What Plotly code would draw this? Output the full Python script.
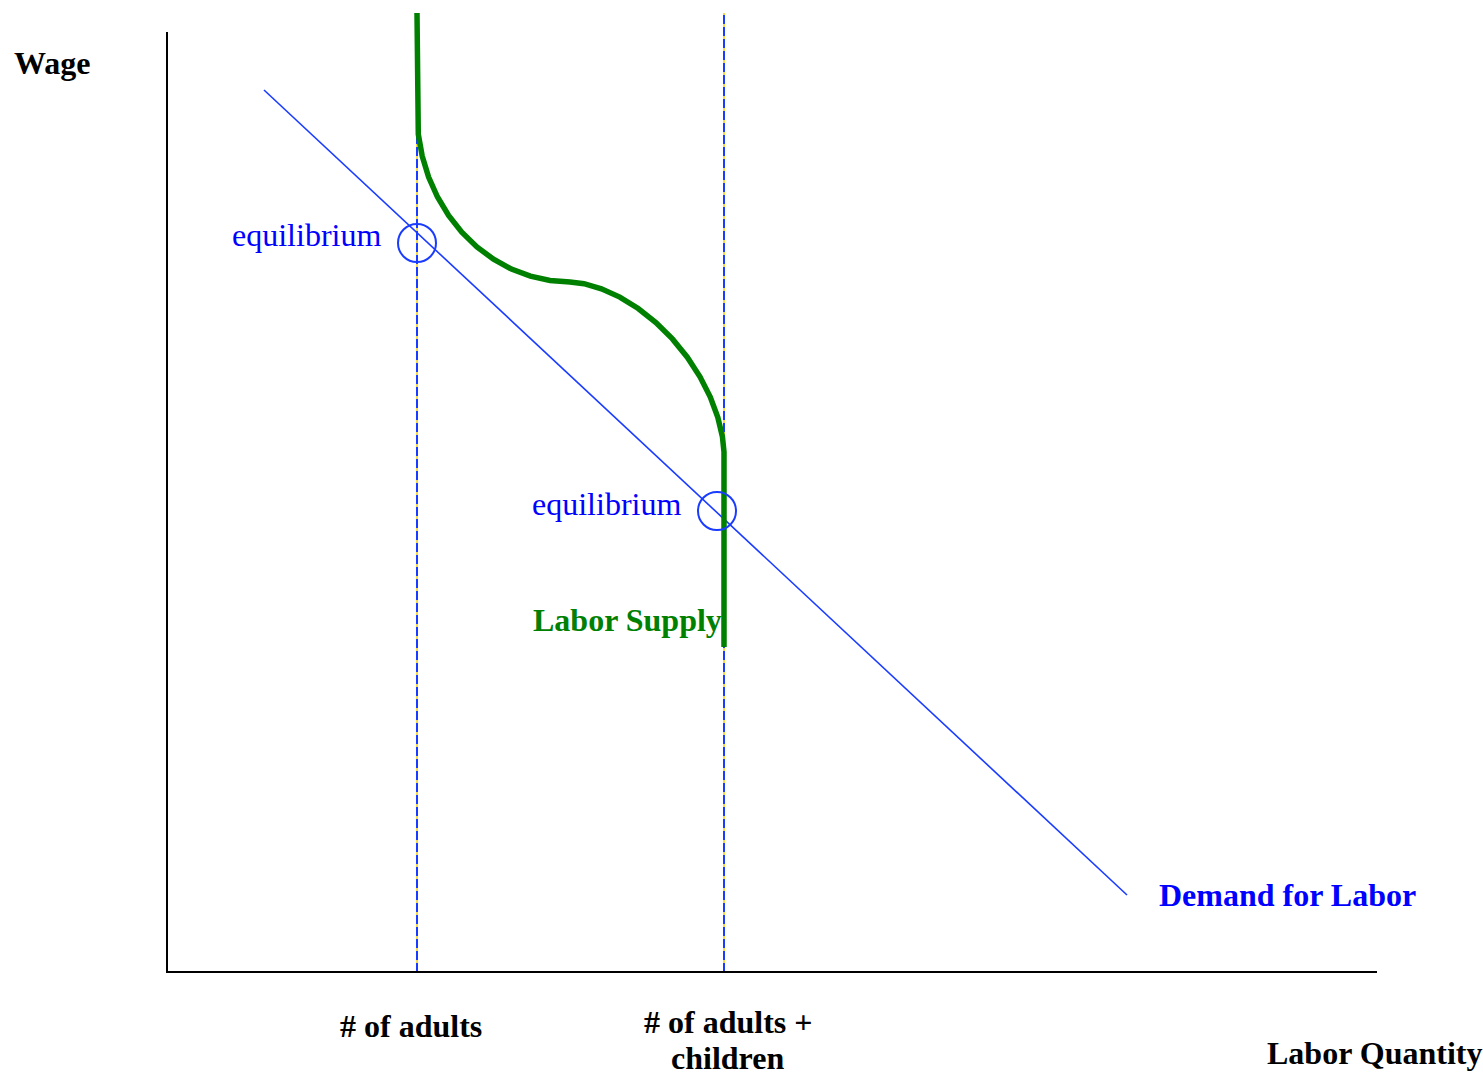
import plotly.graph_objects as go

# ---- data (economic units: quantity to the right, wage upward) ----
axis_x = [0, 0, 1210]
axis_y = [940, 0, 0]

adults_q = 250
adults_children_q = 557
dash_top_w = 959

demand_q = [97, 960]
demand_w = [882, 77]

supply_q = [250, 250, 251.3, 255.2, 261.6, 270.5, 281.6, 294.8, 309.9, 326.5, 344.4, 363.4, 383.0, 403,
            417.0, 434.4, 452.8, 471.2, 488.9, 505.4, 520.3, 533.0, 543.3, 550.8, 555.4, 557, 557]
supply_w = [959, 860, 837.8, 816.0, 794.9, 775.0, 756.5, 739.8, 725.1, 712.8, 702.9, 695.8, 691.5, 690,
            688.3, 683.2, 674.9, 663.5, 649.5, 633.1, 614.8, 595.2, 574.9, 554.7, 535.5, 520, 325]

equil_q = [250, 550]
equil_w = [729, 461]

tick_labels = ["# of adults", "# of adults +", "children"]

FONT = "Liberation Serif"
BLUE_LINE = "#1a3cff"
BLUE_TEXT = "#0000ff"
GREEN = "#008000"

fig = go.Figure()

# dashed reference lines (blue dashes on yellow)
for q in [adults_q, adults_children_q]:
    fig.add_trace(go.Scatter(x=[q, q], y=[0, dash_top_w], mode="lines",
                             line=dict(color="#f2d84a", width=2), hoverinfo="skip", showlegend=False))
    fig.add_trace(go.Scatter(x=[q, q], y=[0, dash_top_w], mode="lines",
                             line=dict(color=BLUE_LINE, width=2, dash="9px,3px"), hoverinfo="skip", showlegend=False))

# axes
fig.add_trace(go.Scatter(x=axis_x, y=axis_y, mode="lines",
                         line=dict(color="black", width=2), hoverinfo="skip", showlegend=False))

# demand
fig.add_trace(go.Scatter(x=demand_q, y=demand_w, mode="lines",
                         line=dict(color=BLUE_LINE, width=1.6), showlegend=False))

# supply
fig.add_trace(go.Scatter(x=supply_q, y=supply_w, mode="lines",
                         line=dict(color=GREEN, width=5.5), showlegend=False))

# equilibrium circles
fig.add_trace(go.Scatter(x=equil_q, y=equil_w, mode="markers",
                         marker=dict(symbol="circle-open", size=38, color=BLUE_LINE, line=dict(width=2)),
                         showlegend=False))

ann = []
def txt(text, x, y, color="black", bold=True, xanchor="left", size=32):
    t = f"<b>{text}</b>" if bold else text
    ann.append(dict(text=t, x=x, y=y, xref="x", yref="y", showarrow=False, xanchor=xanchor,
                    yanchor="middle", font=dict(family=FONT, size=size, color=color)))

txt("Wage", -155, 909)
txt("equilibrium", 63, 737, color=BLUE_TEXT, bold=False)
txt("equilibrium", 363, 468, color=BLUE_TEXT, bold=False)
txt("Labor Supply", 364, 352, color=GREEN)
txt("Demand for Labor", 990, 77, color=BLUE_TEXT)
txt(tick_labels[0], 244, -54, xanchor="center")
txt(tick_labels[1], 561, -50, xanchor="center")
txt(tick_labels[2], 560, -86, xanchor="center")
txt("Labor Quantity", 1098, -81)

fig.update_layout(
    width=1483, height=1072,
    margin=dict(l=0, r=0, t=0, b=0),
    paper_bgcolor="white", plot_bgcolor="white",
    xaxis=dict(range=[-167, 1316], visible=False, fixedrange=True),
    yaxis=dict(range=[-100, 972], visible=False, fixedrange=True),
    annotations=ann,
)

fig.write_html("out.html", config={"displayModeBar": False},
               post_script="document.body.style.margin='0';document.body.style.overflow='hidden';")
